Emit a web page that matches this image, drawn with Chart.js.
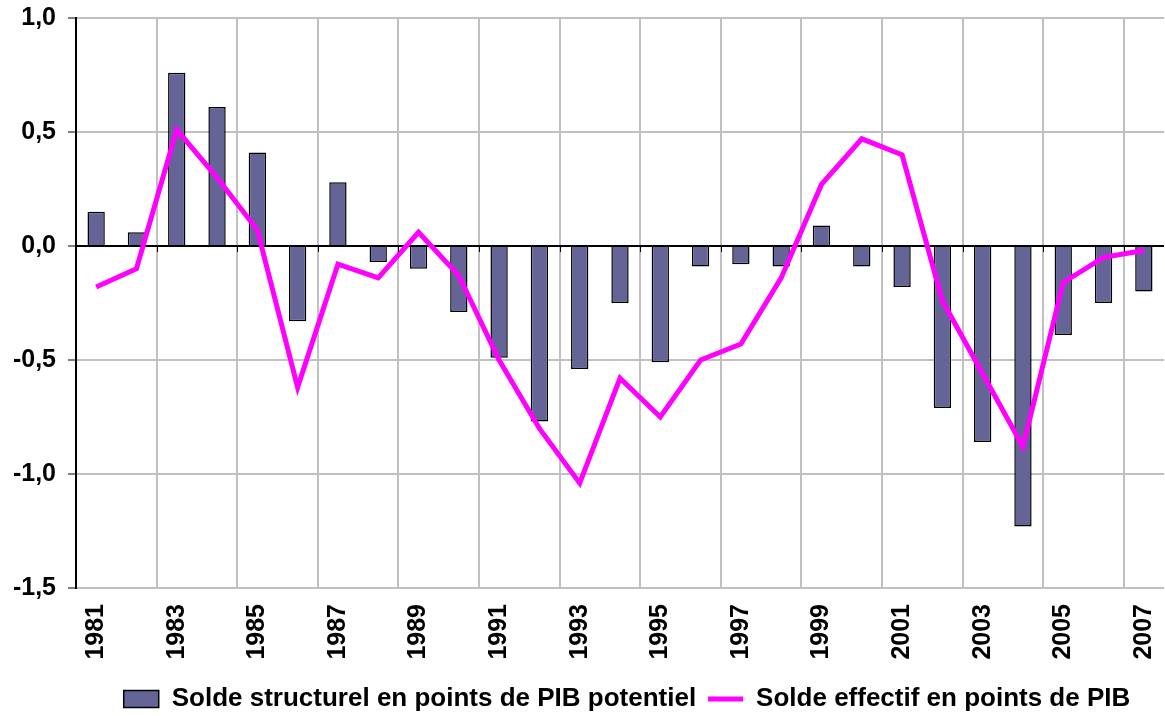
<!DOCTYPE html>
<html>
<head>
<meta charset="utf-8">
<script src="https://cdn.jsdelivr.net/npm/chart.js@4"></script>
<style>
    html, body { margin: 0; padding: 0; background: #fff; }
    #wrap { width: 1165px; height: 716px; }
</style>
</head>
<body>
<div id="wrap"><canvas id="chart" width="1165" height="716"></canvas></div>
<script>
const years = [
    "1981", "1982", "1983", "1984", "1985", "1986", "1987", "1988", "1989",
    "1990", "1991", "1992", "1993", "1994", "1995", "1996", "1997", "1998",
    "1999", "2000", "2001", "2002", "2003", "2004", "2005", "2006", "2007"
];
// solde structurel (barres)
const soldeStructurel = [
    0.15, 0.06, 0.76, 0.61, 0.41, -0.33, 0.28, -0.07, -0.10,
    -0.29, -0.49, -0.77, -0.54, -0.25, -0.51, -0.09, -0.08, -0.09,
    0.09, -0.09, -0.18, -0.71, -0.86, -1.23, -0.39, -0.25, -0.20
];
// solde effectif (ligne)
const soldeEffectif = [
    -0.18, -0.10, 0.51, 0.30, 0.07, -0.62, -0.08, -0.14, 0.06,
    -0.13, -0.50, -0.80, -1.04, -0.58, -0.75, -0.50, -0.43, -0.14,
    0.27, 0.47, 0.40, -0.24, -0.56, -0.88, -0.16, -0.05, -0.02
];
const labelStructurel = "Solde structurel en points de PIB potentiel";
const labelEffectif = "Solde effectif en points de PIB";

const fontFamily = "'Liberation Sans', Arial, sans-serif";

// petites graduations sous l'axe 0, toutes les deux années
const zeroTicks = {
    id: "zeroTicks",
    afterDatasetsDraw(chart) {
        const x = chart.scales.x;
        const y = chart.scales.y;
        const y0 = y.getPixelForValue(0);
        const ctx = chart.ctx;
        ctx.save();
        ctx.strokeStyle = "#000";
        ctx.lineWidth = 1;
        for (let k = 2; k < years.length; k += 2) {
            const px = Math.round((x.getPixelForValue(k - 1) + x.getPixelForValue(k)) / 2) + 0.5;
            ctx.beginPath();
            ctx.moveTo(px, y0);
            ctx.lineTo(px, y0 + 6);
            ctx.stroke();
        }
        ctx.restore();
    }
};

// légende centrée sous la zone de tracé plutôt que sous tout le canvas
const legendShift = {
    id: "legendShift",
    afterLayout(chart) {
        const l = chart.legend;
        l.left += 45;
        l.right += 45;
        l.top += 2;
        l.bottom += 2;
    }
};

new Chart(document.getElementById("chart"), {
    type: "bar",
    data: {
        labels: years,
        datasets: [
            {
                type: "bar",
                label: labelStructurel,
                data: soldeStructurel,
                backgroundColor: "#646496",
                borderColor: "#000",
                borderWidth: 1.5,
                barPercentage: 0.43,
                categoryPercentage: 1.0,
                pointStyle: "rect",
                order: 1,
            },
            {
                type: "line",
                label: labelEffectif,
                data: soldeEffectif,
                borderColor: "#FF00FF",
                backgroundColor: "#FF00FF",
                borderWidth: 5,
                pointRadius: 0,
                tension: 0,
                pointStyle: "line",
                order: 0,
            },
        ],
    },
    options: {
        responsive: false,
        animation: false,
        layout: {
            padding: { top: 18, right: 1, left: 0, bottom: -4 },
        },
        scales: {
            x: {
                offset: true,
                grid: {
                    offset: true,
                    drawTicks: false,
                    color: (ctx) => (ctx.index !== undefined && ctx.index % 2 === 0 ? "#c0c0c0" : "rgba(0,0,0,0)"),
                    lineWidth: 2,
                },
                border: { display: false },
                ticks: {
                    autoSkip: false,
                    minRotation: 90,
                    maxRotation: 90,
                    padding: 16,
                    color: "#000",
                    font: { family: fontFamily, size: 25, weight: "bold" },
                    callback: (val, index) => (index % 2 === 0 ? years[index] : ""),
                },
                afterFit: (scale) => {
                    scale.height = 84;
                    scale.paddingLeft = 0;
                    scale.paddingRight = 0;
                },
            },
            y: {
                min: -1.5,
                max: 1.0,
                ticks: {
                    stepSize: 0.5,
                    padding: 12,
                    color: "#000",
                    font: { family: fontFamily, size: 25, weight: "bold" },
                    callback: (v) => v.toFixed(1).replace(".", ","),
                },
                grid: {
                    color: (ctx) => (ctx.tick && ctx.tick.value === 0 ? "#000" : "#c0c0c0"),
                    lineWidth: 2,
                    tickLength: 8,
                    tickColor: "#000",
                    tickWidth: 1,
                },
                border: { display: true, color: "#000", width: 2 },
                afterFit: (scale) => {
                    scale.width = 76;
                    scale.paddingTop = 0;
                    scale.paddingBottom = 0;
                },
            },
        },
        plugins: {
            legend: {
                position: "bottom",
                labels: {
                    usePointStyle: true,
                    pointStyleWidth: 35,
                    boxHeight: 17,
                    padding: 12,
                    color: "#000",
                    font: { family: fontFamily, size: 26, weight: "bold" },
                    sort: (a, b) => a.datasetIndex - b.datasetIndex,
                },
            },
            tooltip: { enabled: false },
        },
    },
    plugins: [zeroTicks, legendShift],
});
</script>
</body>
</html>
